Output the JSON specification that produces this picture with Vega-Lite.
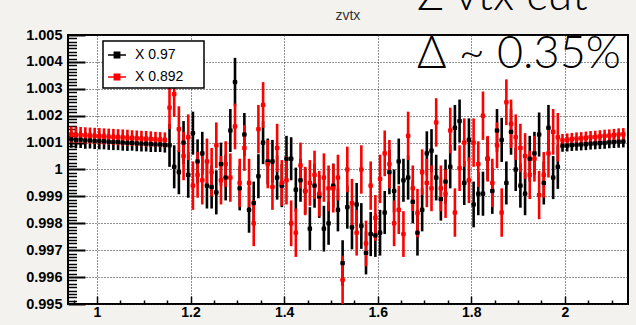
{
  "$schema": "https://vega.github.io/schema/vega-lite/v6.json",
  "width": 560,
  "height": 269,
  "autosize": {"type": "none"},
  "padding": {"left": 68, "top": 35, "right": 8, "bottom": 21},
  "background": "#f3f2ef",
  "config": {
    "view": {"stroke": "black", "strokeWidth": 2, "fill": "white"},
    "axis": {
      "domain": false,
      "labelFont": "Liberation Sans",
      "labelFontWeight": "bold",
      "labelFontSize": 14,
      "labelColor": "black",
      "tickColor": "black",
      "gridColor": "#222222",
      "gridDash": [1, 2],
      "gridWidth": 1
    }
  },
  "datasets": {
    "zvtx": [
      {"x":0.945,"v":1.00112,"e":0.00031,"s":"X 0.97"},
      {"x":0.955,"v":1.00110,"e":0.00031,"s":"X 0.97"},
      {"x":0.965,"v":1.00111,"e":0.00031,"s":"X 0.97"},
      {"x":0.975,"v":1.00108,"e":0.00031,"s":"X 0.97"},
      {"x":0.985,"v":1.00108,"e":0.0003,"s":"X 0.97"},
      {"x":0.995,"v":1.00106,"e":0.0003,"s":"X 0.97"},
      {"x":1.005,"v":1.00105,"e":0.0003,"s":"X 0.97"},
      {"x":1.015,"v":1.00105,"e":0.0003,"s":"X 0.97"},
      {"x":1.025,"v":1.00103,"e":0.0003,"s":"X 0.97"},
      {"x":1.035,"v":1.00102,"e":0.0003,"s":"X 0.97"},
      {"x":1.045,"v":1.00102,"e":0.0003,"s":"X 0.97"},
      {"x":1.055,"v":1.00100,"e":0.0003,"s":"X 0.97"},
      {"x":1.065,"v":1.00099,"e":0.0003,"s":"X 0.97"},
      {"x":1.075,"v":1.00099,"e":0.00029,"s":"X 0.97"},
      {"x":1.085,"v":1.00097,"e":0.00029,"s":"X 0.97"},
      {"x":1.095,"v":1.00096,"e":0.00029,"s":"X 0.97"},
      {"x":1.105,"v":1.00096,"e":0.00029,"s":"X 0.97"},
      {"x":1.115,"v":1.00094,"e":0.00029,"s":"X 0.97"},
      {"x":1.125,"v":1.00093,"e":0.00028,"s":"X 0.97"},
      {"x":1.135,"v":1.00093,"e":0.00028,"s":"X 0.97"},
      {"x":1.145,"v":1.00091,"e":0.00028,"s":"X 0.97"},
      {"x":1.155,"v":1.0009,"e":0.0008,"s":"X 0.97"},
      {"x":1.165,"v":1.0001,"e":0.0008,"s":"X 0.97"},
      {"x":1.175,"v":0.9999,"e":0.00082,"s":"X 0.97"},
      {"x":1.185,"v":1.0010,"e":0.0008,"s":"X 0.97"},
      {"x":1.195,"v":0.9998,"e":0.00085,"s":"X 0.97"},
      {"x":1.205,"v":1.00135,"e":0.0008,"s":"X 0.97"},
      {"x":1.215,"v":1.0003,"e":0.00082,"s":"X 0.97"},
      {"x":1.225,"v":1.0006,"e":0.0008,"s":"X 0.97"},
      {"x":1.235,"v":0.9994,"e":0.00085,"s":"X 0.97"},
      {"x":1.245,"v":0.99935,"e":0.0008,"s":"X 0.97"},
      {"x":1.255,"v":0.99915,"e":0.00082,"s":"X 0.97"},
      {"x":1.265,"v":1.0002,"e":0.0008,"s":"X 0.97"},
      {"x":1.275,"v":0.9997,"e":0.00085,"s":"X 0.97"},
      {"x":1.285,"v":1.00145,"e":0.0008,"s":"X 0.97"},
      {"x":1.295,"v":1.00325,"e":0.0009,"s":"X 0.97"},
      {"x":1.305,"v":0.9993,"e":0.00082,"s":"X 0.97"},
      {"x":1.315,"v":1.0013,"e":0.0008,"s":"X 0.97"},
      {"x":1.325,"v":0.9985,"e":0.00085,"s":"X 0.97"},
      {"x":1.335,"v":0.99875,"e":0.0008,"s":"X 0.97"},
      {"x":1.345,"v":0.99975,"e":0.00082,"s":"X 0.97"},
      {"x":1.355,"v":1.0010,"e":0.0008,"s":"X 0.97"},
      {"x":1.365,"v":1.0003,"e":0.00085,"s":"X 0.97"},
      {"x":1.375,"v":1.0003,"e":0.0008,"s":"X 0.97"},
      {"x":1.385,"v":0.9997,"e":0.00082,"s":"X 0.97"},
      {"x":1.395,"v":0.9994,"e":0.0008,"s":"X 0.97"},
      {"x":1.405,"v":1.0004,"e":0.00085,"s":"X 0.97"},
      {"x":1.415,"v":1.0004,"e":0.0008,"s":"X 0.97"},
      {"x":1.425,"v":0.99925,"e":0.00082,"s":"X 0.97"},
      {"x":1.435,"v":0.9996,"e":0.0008,"s":"X 0.97"},
      {"x":1.445,"v":0.9992,"e":0.00085,"s":"X 0.97"},
      {"x":1.455,"v":0.9978,"e":0.0008,"s":"X 0.97"},
      {"x":1.465,"v":0.9994,"e":0.00082,"s":"X 0.97"},
      {"x":1.475,"v":0.9990,"e":0.0008,"s":"X 0.97"},
      {"x":1.485,"v":0.9978,"e":0.00085,"s":"X 0.97"},
      {"x":1.495,"v":0.9980,"e":0.0008,"s":"X 0.97"},
      {"x":1.505,"v":0.9994,"e":0.00082,"s":"X 0.97"},
      {"x":1.515,"v":0.9985,"e":0.0008,"s":"X 0.97"},
      {"x":1.525,"v":0.99652,"e":0.00085,"s":"X 0.97"},
      {"x":1.535,"v":0.9986,"e":0.0008,"s":"X 0.97"},
      {"x":1.545,"v":0.99785,"e":0.00082,"s":"X 0.97"},
      {"x":1.555,"v":0.9987,"e":0.0008,"s":"X 0.97"},
      {"x":1.565,"v":0.9979,"e":0.00085,"s":"X 0.97"},
      {"x":1.575,"v":0.9969,"e":0.0008,"s":"X 0.97"},
      {"x":1.585,"v":0.9976,"e":0.00082,"s":"X 0.97"},
      {"x":1.595,"v":0.99755,"e":0.0008,"s":"X 0.97"},
      {"x":1.605,"v":0.99765,"e":0.00085,"s":"X 0.97"},
      {"x":1.615,"v":0.9984,"e":0.0008,"s":"X 0.97"},
      {"x":1.625,"v":0.9999,"e":0.00082,"s":"X 0.97"},
      {"x":1.635,"v":0.9992,"e":0.0008,"s":"X 0.97"},
      {"x":1.645,"v":1.0003,"e":0.00085,"s":"X 0.97"},
      {"x":1.655,"v":0.9996,"e":0.0008,"s":"X 0.97"},
      {"x":1.665,"v":0.9997,"e":0.00082,"s":"X 0.97"},
      {"x":1.675,"v":0.9988,"e":0.0008,"s":"X 0.97"},
      {"x":1.685,"v":0.99765,"e":0.00085,"s":"X 0.97"},
      {"x":1.695,"v":0.9985,"e":0.0008,"s":"X 0.97"},
      {"x":1.705,"v":1.0006,"e":0.00082,"s":"X 0.97"},
      {"x":1.715,"v":1.0007,"e":0.0008,"s":"X 0.97"},
      {"x":1.725,"v":0.9997,"e":0.00085,"s":"X 0.97"},
      {"x":1.735,"v":0.9989,"e":0.0008,"s":"X 0.97"},
      {"x":1.745,"v":0.99955,"e":0.00082,"s":"X 0.97"},
      {"x":1.755,"v":1.0001,"e":0.0008,"s":"X 0.97"},
      {"x":1.765,"v":1.00155,"e":0.00085,"s":"X 0.97"},
      {"x":1.775,"v":1.0018,"e":0.0008,"s":"X 0.97"},
      {"x":1.785,"v":0.9995,"e":0.00082,"s":"X 0.97"},
      {"x":1.795,"v":1.0011,"e":0.0008,"s":"X 0.97"},
      {"x":1.805,"v":0.9987,"e":0.00085,"s":"X 0.97"},
      {"x":1.815,"v":0.9991,"e":0.0008,"s":"X 0.97"},
      {"x":1.825,"v":0.9991,"e":0.00082,"s":"X 0.97"},
      {"x":1.835,"v":1.0004,"e":0.0008,"s":"X 0.97"},
      {"x":1.845,"v":0.9992,"e":0.00085,"s":"X 0.97"},
      {"x":1.855,"v":1.00145,"e":0.0008,"s":"X 0.97"},
      {"x":1.865,"v":1.0011,"e":0.00082,"s":"X 0.97"},
      {"x":1.875,"v":0.9995,"e":0.0008,"s":"X 0.97"},
      {"x":1.885,"v":1.0014,"e":0.00085,"s":"X 0.97"},
      {"x":1.895,"v":1.0000,"e":0.0008,"s":"X 0.97"},
      {"x":1.905,"v":0.9994,"e":0.00082,"s":"X 0.97"},
      {"x":1.915,"v":0.9991,"e":0.0008,"s":"X 0.97"},
      {"x":1.925,"v":1.0004,"e":0.00085,"s":"X 0.97"},
      {"x":1.935,"v":1.0006,"e":0.0008,"s":"X 0.97"},
      {"x":1.945,"v":1.0013,"e":0.00082,"s":"X 0.97"},
      {"x":1.955,"v":0.9995,"e":0.0008,"s":"X 0.97"},
      {"x":1.965,"v":1.00155,"e":0.00085,"s":"X 0.97"},
      {"x":1.975,"v":0.9997,"e":0.0008,"s":"X 0.97"},
      {"x":1.985,"v":1.0001,"e":0.00082,"s":"X 0.97"},
      {"x":1.995,"v":1.00088,"e":0.00022,"s":"X 0.97"},
      {"x":2.005,"v":1.00089,"e":0.00022,"s":"X 0.97"},
      {"x":2.015,"v":1.00091,"e":0.00022,"s":"X 0.97"},
      {"x":2.025,"v":1.00092,"e":0.00022,"s":"X 0.97"},
      {"x":2.035,"v":1.00093,"e":0.00022,"s":"X 0.97"},
      {"x":2.045,"v":1.00094,"e":0.00022,"s":"X 0.97"},
      {"x":2.055,"v":1.00096,"e":0.00022,"s":"X 0.97"},
      {"x":2.065,"v":1.00097,"e":0.00022,"s":"X 0.97"},
      {"x":2.075,"v":1.00098,"e":0.00022,"s":"X 0.97"},
      {"x":2.085,"v":1.00099,"e":0.00022,"s":"X 0.97"},
      {"x":2.095,"v":1.00101,"e":0.00022,"s":"X 0.97"},
      {"x":2.105,"v":1.00102,"e":0.00022,"s":"X 0.97"},
      {"x":2.115,"v":1.00103,"e":0.00022,"s":"X 0.97"},
      {"x":2.125,"v":1.00104,"e":0.00022,"s":"X 0.97"},

      {"x":0.945,"v":1.00130,"e":0.0003,"s":"X 0.892"},
      {"x":0.955,"v":1.00129,"e":0.0003,"s":"X 0.892"},
      {"x":0.965,"v":1.00128,"e":0.0003,"s":"X 0.892"},
      {"x":0.975,"v":1.00127,"e":0.0003,"s":"X 0.892"},
      {"x":0.985,"v":1.00126,"e":0.0003,"s":"X 0.892"},
      {"x":0.995,"v":1.00125,"e":0.0003,"s":"X 0.892"},
      {"x":1.005,"v":1.00124,"e":0.0003,"s":"X 0.892"},
      {"x":1.015,"v":1.00123,"e":0.0003,"s":"X 0.892"},
      {"x":1.025,"v":1.00122,"e":0.0003,"s":"X 0.892"},
      {"x":1.035,"v":1.00121,"e":0.0003,"s":"X 0.892"},
      {"x":1.045,"v":1.00120,"e":0.0003,"s":"X 0.892"},
      {"x":1.055,"v":1.00119,"e":0.0003,"s":"X 0.892"},
      {"x":1.065,"v":1.00118,"e":0.0003,"s":"X 0.892"},
      {"x":1.075,"v":1.00117,"e":0.00029,"s":"X 0.892"},
      {"x":1.085,"v":1.00116,"e":0.00029,"s":"X 0.892"},
      {"x":1.095,"v":1.00115,"e":0.00029,"s":"X 0.892"},
      {"x":1.105,"v":1.00114,"e":0.00029,"s":"X 0.892"},
      {"x":1.115,"v":1.00113,"e":0.00029,"s":"X 0.892"},
      {"x":1.125,"v":1.00112,"e":0.00028,"s":"X 0.892"},
      {"x":1.135,"v":1.00111,"e":0.00028,"s":"X 0.892"},
      {"x":1.145,"v":1.00110,"e":0.00028,"s":"X 0.892"},
      {"x":1.155,"v":1.0023,"e":0.0008,"s":"X 0.892"},
      {"x":1.165,"v":1.0028,"e":0.00085,"s":"X 0.892"},
      {"x":1.175,"v":1.0015,"e":0.00085,"s":"X 0.892"},
      {"x":1.185,"v":1.0005,"e":0.0009,"s":"X 0.892"},
      {"x":1.195,"v":1.0012,"e":0.00085,"s":"X 0.892"},
      {"x":1.205,"v":0.9994,"e":0.0009,"s":"X 0.892"},
      {"x":1.215,"v":0.9998,"e":0.00085,"s":"X 0.892"},
      {"x":1.225,"v":0.9996,"e":0.0009,"s":"X 0.892"},
      {"x":1.235,"v":1.0003,"e":0.00085,"s":"X 0.892"},
      {"x":1.245,"v":0.9999,"e":0.0009,"s":"X 0.892"},
      {"x":1.255,"v":1.0009,"e":0.00085,"s":"X 0.892"},
      {"x":1.265,"v":0.9996,"e":0.0009,"s":"X 0.892"},
      {"x":1.275,"v":1.0002,"e":0.00085,"s":"X 0.892"},
      {"x":1.285,"v":0.9997,"e":0.0009,"s":"X 0.892"},
      {"x":1.295,"v":1.0016,"e":0.00085,"s":"X 0.892"},
      {"x":1.305,"v":0.9995,"e":0.0009,"s":"X 0.892"},
      {"x":1.315,"v":1.0008,"e":0.00085,"s":"X 0.892"},
      {"x":1.325,"v":0.9995,"e":0.0009,"s":"X 0.892"},
      {"x":1.335,"v":0.9980,"e":0.00085,"s":"X 0.892"},
      {"x":1.345,"v":1.0015,"e":0.0009,"s":"X 0.892"},
      {"x":1.355,"v":1.0024,"e":0.00085,"s":"X 0.892"},
      {"x":1.365,"v":1.0002,"e":0.0009,"s":"X 0.892"},
      {"x":1.375,"v":0.99935,"e":0.00085,"s":"X 0.892"},
      {"x":1.385,"v":1.0008,"e":0.0009,"s":"X 0.892"},
      {"x":1.395,"v":0.9995,"e":0.00085,"s":"X 0.892"},
      {"x":1.405,"v":0.9996,"e":0.0009,"s":"X 0.892"},
      {"x":1.415,"v":0.9980,"e":0.00085,"s":"X 0.892"},
      {"x":1.425,"v":0.99765,"e":0.0009,"s":"X 0.892"},
      {"x":1.435,"v":1.00015,"e":0.00085,"s":"X 0.892"},
      {"x":1.445,"v":0.9992,"e":0.0009,"s":"X 0.892"},
      {"x":1.455,"v":0.9995,"e":0.00085,"s":"X 0.892"},
      {"x":1.465,"v":0.9998,"e":0.0009,"s":"X 0.892"},
      {"x":1.475,"v":0.9991,"e":0.00085,"s":"X 0.892"},
      {"x":1.485,"v":0.9997,"e":0.0009,"s":"X 0.892"},
      {"x":1.495,"v":0.9993,"e":0.00085,"s":"X 0.892"},
      {"x":1.505,"v":0.9993,"e":0.0009,"s":"X 0.892"},
      {"x":1.515,"v":0.9997,"e":0.00085,"s":"X 0.892"},
      {"x":1.525,"v":0.9959,"e":0.0009,"s":"X 0.892"},
      {"x":1.535,"v":1.0000,"e":0.00085,"s":"X 0.892"},
      {"x":1.545,"v":0.99875,"e":0.0009,"s":"X 0.892"},
      {"x":1.555,"v":0.99765,"e":0.00085,"s":"X 0.892"},
      {"x":1.565,"v":1.0000,"e":0.0009,"s":"X 0.892"},
      {"x":1.575,"v":0.99725,"e":0.00085,"s":"X 0.892"},
      {"x":1.585,"v":0.9994,"e":0.0009,"s":"X 0.892"},
      {"x":1.595,"v":0.9982,"e":0.00085,"s":"X 0.892"},
      {"x":1.605,"v":0.99965,"e":0.0009,"s":"X 0.892"},
      {"x":1.615,"v":1.0006,"e":0.00085,"s":"X 0.892"},
      {"x":1.625,"v":1.0002,"e":0.0009,"s":"X 0.892"},
      {"x":1.635,"v":0.9980,"e":0.00085,"s":"X 0.892"},
      {"x":1.645,"v":0.9985,"e":0.0009,"s":"X 0.892"},
      {"x":1.655,"v":0.9976,"e":0.00085,"s":"X 0.892"},
      {"x":1.665,"v":1.00125,"e":0.0009,"s":"X 0.892"},
      {"x":1.675,"v":0.9993,"e":0.00085,"s":"X 0.892"},
      {"x":1.685,"v":0.99838,"e":0.0009,"s":"X 0.892"},
      {"x":1.695,"v":0.9999,"e":0.00085,"s":"X 0.892"},
      {"x":1.705,"v":0.9995,"e":0.0009,"s":"X 0.892"},
      {"x":1.715,"v":0.9993,"e":0.00085,"s":"X 0.892"},
      {"x":1.725,"v":1.00175,"e":0.0009,"s":"X 0.892"},
      {"x":1.735,"v":0.9993,"e":0.00085,"s":"X 0.892"},
      {"x":1.745,"v":0.9991,"e":0.0009,"s":"X 0.892"},
      {"x":1.755,"v":1.00145,"e":0.00085,"s":"X 0.892"},
      {"x":1.765,"v":0.9984,"e":0.0009,"s":"X 0.892"},
      {"x":1.775,"v":1.00005,"e":0.00085,"s":"X 0.892"},
      {"x":1.785,"v":1.0010,"e":0.0009,"s":"X 0.892"},
      {"x":1.795,"v":0.9996,"e":0.00085,"s":"X 0.892"},
      {"x":1.805,"v":1.0010,"e":0.0009,"s":"X 0.892"},
      {"x":1.815,"v":1.0002,"e":0.00085,"s":"X 0.892"},
      {"x":1.825,"v":1.0020,"e":0.0009,"s":"X 0.892"},
      {"x":1.835,"v":1.0004,"e":0.00085,"s":"X 0.892"},
      {"x":1.845,"v":0.9995,"e":0.0009,"s":"X 0.892"},
      {"x":1.855,"v":1.0009,"e":0.00085,"s":"X 0.892"},
      {"x":1.865,"v":0.9984,"e":0.0009,"s":"X 0.892"},
      {"x":1.875,"v":1.0025,"e":0.00085,"s":"X 0.892"},
      {"x":1.885,"v":1.0017,"e":0.0009,"s":"X 0.892"},
      {"x":1.895,"v":1.0012,"e":0.00085,"s":"X 0.892"},
      {"x":1.905,"v":1.0008,"e":0.0009,"s":"X 0.892"},
      {"x":1.915,"v":1.0005,"e":0.00085,"s":"X 0.892"},
      {"x":1.925,"v":0.9998,"e":0.0009,"s":"X 0.892"},
      {"x":1.935,"v":1.0004,"e":0.00085,"s":"X 0.892"},
      {"x":1.945,"v":0.99905,"e":0.0009,"s":"X 0.892"},
      {"x":1.955,"v":0.9998,"e":0.00085,"s":"X 0.892"},
      {"x":1.965,"v":1.0006,"e":0.0009,"s":"X 0.892"},
      {"x":1.975,"v":1.0014,"e":0.00085,"s":"X 0.892"},
      {"x":1.985,"v":1.0012,"e":0.0009,"s":"X 0.892"},
      {"x":1.995,"v":1.00109,"e":0.00023,"s":"X 0.892"},
      {"x":2.005,"v":1.00111,"e":0.00023,"s":"X 0.892"},
      {"x":2.015,"v":1.00113,"e":0.00023,"s":"X 0.892"},
      {"x":2.025,"v":1.00115,"e":0.00023,"s":"X 0.892"},
      {"x":2.035,"v":1.00116,"e":0.00023,"s":"X 0.892"},
      {"x":2.045,"v":1.00118,"e":0.00023,"s":"X 0.892"},
      {"x":2.055,"v":1.00120,"e":0.00023,"s":"X 0.892"},
      {"x":2.065,"v":1.00121,"e":0.00023,"s":"X 0.892"},
      {"x":2.075,"v":1.00123,"e":0.00023,"s":"X 0.892"},
      {"x":2.085,"v":1.00125,"e":0.00023,"s":"X 0.892"},
      {"x":2.095,"v":1.00126,"e":0.00023,"s":"X 0.892"},
      {"x":2.105,"v":1.00128,"e":0.00023,"s":"X 0.892"},
      {"x":2.115,"v":1.00130,"e":0.00023,"s":"X 0.892"},
      {"x":2.125,"v":1.00131,"e":0.00023,"s":"X 0.892"}
    ]
  },
  "data": {"name": "zvtx"},
  "resolve": {"scale": {"x": "independent", "y": "independent"}},
  "layer": [
    {
      "mark": {"type": "errorbar", "thickness": 2.6, "clip": true},
      "encoding": {
        "x": {
          "field": "x", "type": "quantitative",
          "scale": {"domain": [0.938, 2.135], "nice": false, "zero": false},
          "axis": {"orient": "bottom", "title": null, "values": [1, 1.2, 1.4, 1.6, 1.8, 2], "format": "~g", "grid": true, "tickSize": -8, "tickWidth": 1.5, "labelPadding": 9}
        },
        "y": {
          "field": "v", "type": "quantitative",
          "scale": {"domain": [0.995, 1.005], "nice": false, "zero": false},
          "axis": {"orient": "left", "title": null, "values": [0.995, 0.996, 0.997, 0.998, 0.999, 1, 1.001, 1.002, 1.003, 1.004, 1.005], "format": "~g", "grid": true, "tickSize": -17, "tickWidth": 2, "labelPadding": 23, "labelFontSize": 14.5}
        },
        "yError": {"field": "e"},
        "color": {
          "field": "s", "type": "nominal",
          "scale": {"domain": ["X 0.97", "X 0.892"], "range": ["#000000", "#ff0000"]},
          "legend": {
            "title": " ", "titleOrient": "right", "titlePadding": 17, "titleFontSize": 10,
            "orient": "none", "legendX": 35, "legendY": 6, "padding": 4,
            "fillColor": "white", "strokeColor": "black",
            "labelFont": "Liberation Sans", "labelFontSize": 14, "labelColor": "black", "labelOffset": 8,
            "symbolType": "M-1,0L1,0M-0.3,-0.3L0.3,-0.3L0.3,0.3L-0.3,0.3Z", "symbolSize": 324, "symbolStrokeWidth": 1.5,
            "rowPadding": 5,
            "encode": {
              "symbols": {"update": {"stroke": {"scale": "color", "field": "value"}, "fill": {"scale": "color", "field": "value"}, "opacity": {"value": 1}}},
              "legend": {"update": {"strokeWidth": {"value": 1.5}}}
            }
          }
        }
      }
    },
    {
      "mark": {"type": "tick", "orient": "horizontal", "size": 4.7, "thickness": 1.6, "clip": true},
      "encoding": {
        "x": {
          "field": "x", "type": "quantitative",
          "scale": {"domain": [0.938, 2.135], "nice": false, "zero": false},
          "axis": {"orient": "bottom", "title": null, "labels": false, "grid": false, "values": [0.95, 1.05, 1.1, 1.15, 1.25, 1.3, 1.35, 1.45, 1.5, 1.55, 1.65, 1.7, 1.75, 1.85, 1.9, 1.95, 2.05, 2.1], "tickSize": -4, "tickWidth": 1.5}
        },
        "y": {
          "field": "v", "type": "quantitative",
          "scale": {"domain": [0.995, 1.005], "nice": false, "zero": false},
          "axis": {"orient": "left", "title": null, "labels": false, "grid": false, "tickSize": -8.5, "tickWidth": 1.5,
            "values": [0.995125, 0.99525, 0.995375, 0.9955, 0.995625, 0.99575, 0.995875,
                       0.996125, 0.99625, 0.996375, 0.9965, 0.996625, 0.99675, 0.996875,
                       0.997125, 0.99725, 0.997375, 0.9975, 0.997625, 0.99775, 0.997875,
                       0.998125, 0.99825, 0.998375, 0.9985, 0.998625, 0.99875, 0.998875,
                       0.999125, 0.99925, 0.999375, 0.9995, 0.999625, 0.99975, 0.999875,
                       1.000125, 1.00025, 1.000375, 1.0005, 1.000625, 1.00075, 1.000875,
                       1.001125, 1.00125, 1.001375, 1.0015, 1.001625, 1.00175, 1.001875,
                       1.002125, 1.00225, 1.002375, 1.0025, 1.002625, 1.00275, 1.002875,
                       1.003125, 1.00325, 1.003375, 1.0035, 1.003625, 1.00375, 1.003875,
                       1.004125, 1.00425, 1.004375, 1.0045, 1.004625, 1.00475, 1.004875]}
        },
        "color": {"field": "s", "type": "nominal", "scale": {"domain": ["X 0.97", "X 0.892"], "range": ["#000000", "#ff0000"]}}
      }
    },
    {
      "mark": {"type": "square", "size": 18, "opacity": 1, "filled": true, "clip": true},
      "encoding": {
        "x": {"field": "x", "type": "quantitative", "scale": {"domain": [0.938, 2.135], "nice": false, "zero": false}, "axis": null},
        "y": {"field": "v", "type": "quantitative", "scale": {"domain": [0.995, 1.005], "nice": false, "zero": false}, "axis": null},
        "color": {"field": "s", "type": "nominal", "scale": {"domain": ["X 0.97", "X 0.892"], "range": ["#000000", "#ff0000"]}}
      }
    },
    {
      "data": {"values": [{}]},
      "mark": {"type": "text", "text": "zvtx", "font": "Liberation Sans", "fontSize": 14, "align": "center", "baseline": "alphabetic", "color": "#333333"},
      "encoding": {
        "x": {"datum": 1.5363, "type": "quantitative", "scale": {"domain": [0.938, 2.135], "nice": false, "zero": false}, "axis": null},
        "y": {"datum": 1.00556, "type": "quantitative", "scale": {"domain": [0.995, 1.005], "nice": false, "zero": false}, "axis": null}
      }
    },
    {
      "data": {"values": [{}]},
      "mark": {"type": "text", "text": "Δ ~ 0.35%", "font": "Lato, DejaVu Sans", "fontSize": 45, "fontWeight": 300, "align": "right", "baseline": "alphabetic", "color": "black"},
      "encoding": {
        "x": {"datum": 2.1197, "type": "quantitative", "scale": {"domain": [0.938, 2.135], "nice": false, "zero": false}, "axis": null},
        "y": {"datum": 1.00377, "type": "quantitative", "scale": {"domain": [0.995, 1.005], "nice": false, "zero": false}, "axis": null}
      }
    },
    {
      "data": {"values": [{}]},
      "mark": {"type": "text", "text": "Z vtx cut", "font": "Lato, DejaVu Sans", "fontSize": 45, "fontWeight": 300, "align": "left", "baseline": "alphabetic", "color": "black"},
      "encoding": {
        "x": {"datum": 1.684, "type": "quantitative", "scale": {"domain": [0.938, 2.135], "nice": false, "zero": false}, "axis": null},
        "y": {"datum": 1.00593, "type": "quantitative", "scale": {"domain": [0.995, 1.005], "nice": false, "zero": false}, "axis": null}
      }
    }
  ]
}
